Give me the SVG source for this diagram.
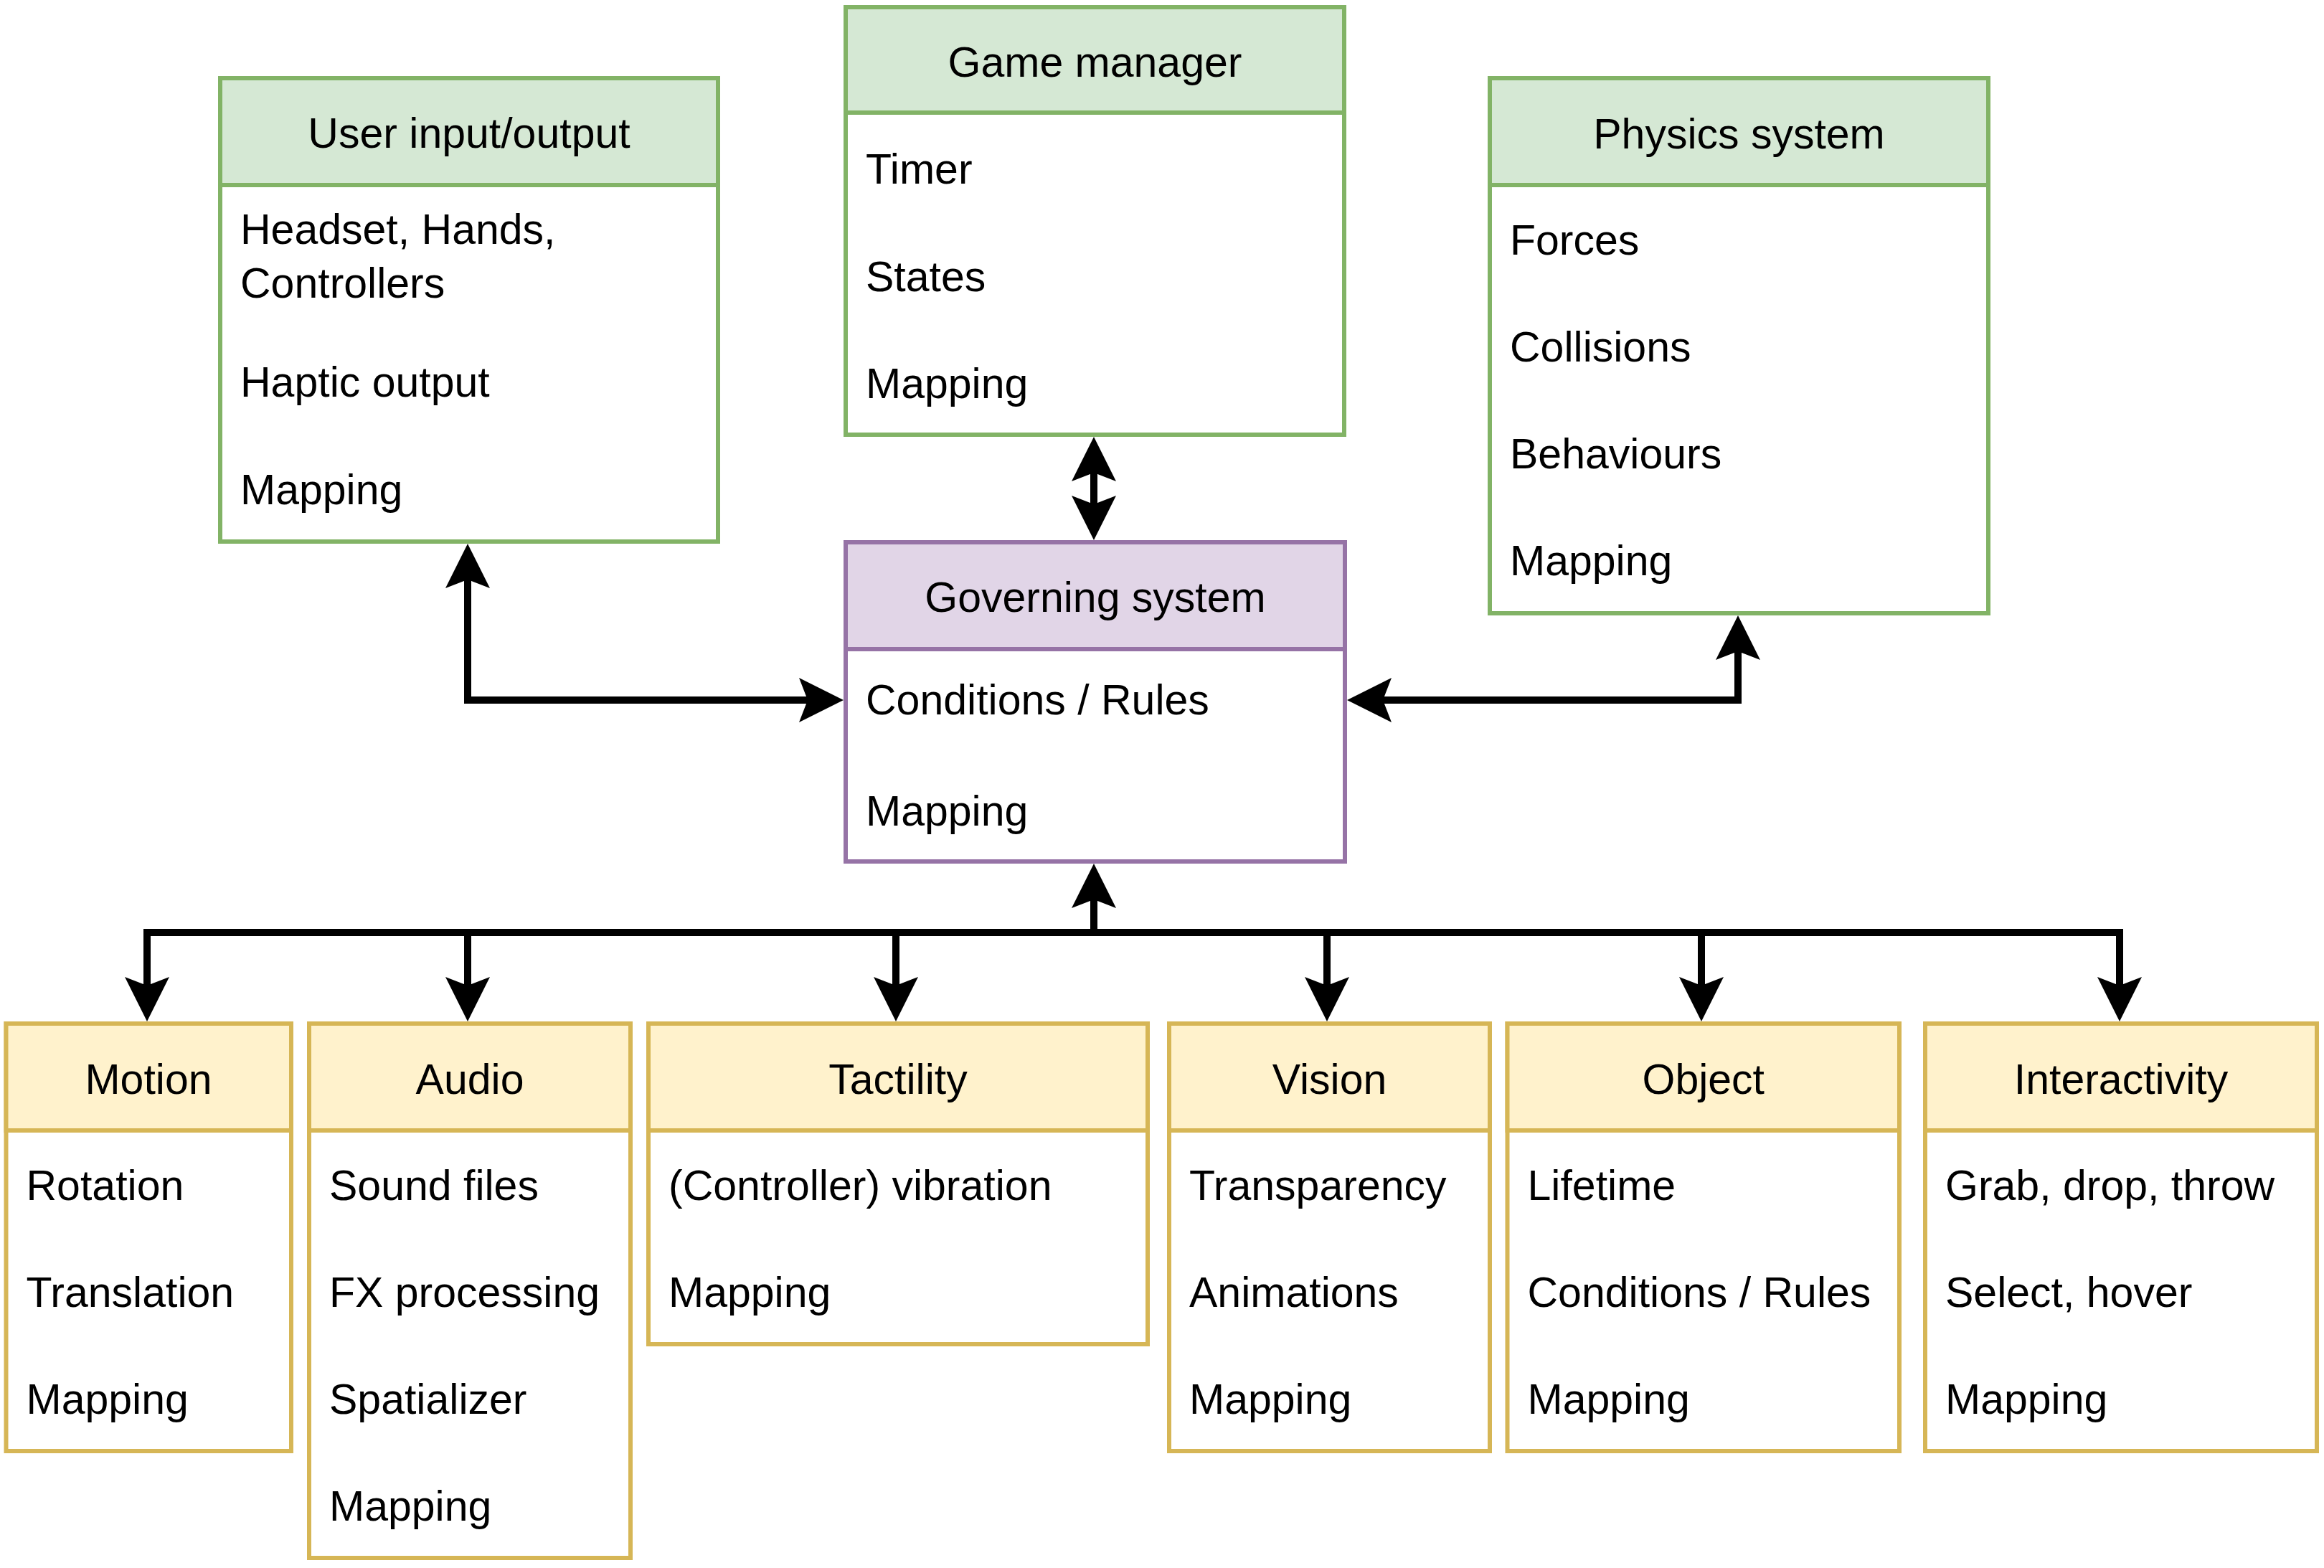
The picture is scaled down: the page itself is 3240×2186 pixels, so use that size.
<svg xmlns="http://www.w3.org/2000/svg" width="3240" height="2186" viewBox="0 0 3240 2186">
<style>
text{font-family:"Liberation Sans",Arial,Helvetica,sans-serif;font-size:59px;fill:#000}
.h{text-anchor:middle}
.box{fill:#fff;stroke-width:6}
.hd{stroke-width:6}
.g .box,.g .hd{stroke:#82b366}.g .hd{fill:#d5e8d4}
.p .box,.p .hd{stroke:#9673a6}.p .hd{fill:#e1d5e7}
.y .box,.y .hd{stroke:#d6b656}.y .hd{fill:#fff2cc}
.e{fill:none;stroke:#000;stroke-width:10;stroke-linejoin:miter}
.e1{marker-end:url(#ah)}
.e2{marker-start:url(#ah);marker-end:url(#ah)}
</style>
<defs>
<marker id="ah" viewBox="0 0 62 62" refX="12" refY="31" markerWidth="62" markerHeight="62" markerUnits="userSpaceOnUse" orient="auto-start-reverse">
<path d="M0,0 L62,31 L0,62 L12,31 Z" fill="#000"/>
</marker>
</defs>
<g id="connectors">
<path class="e e2" d="M652,808 V976 H1126"/>
<path class="e e2" d="M1525,659 V703"/>
<path class="e e2" d="M1928,976 H2423 V908"/>
<path class="e e1" d="M1525,1300 V1254"/>
<path class="e e1" d="M1525,1300 H205 V1374"/>
<path class="e e1" d="M1525,1300 H652 V1374"/>
<path class="e e1" d="M1525,1300 H1249 V1374"/>
<path class="e e1" d="M1525,1300 H1850 V1374"/>
<path class="e e1" d="M1525,1300 H2372 V1374"/>
<path class="e e1" d="M1525,1300 H2955 V1374"/>
</g>
<g id="user-io" class="g">
<rect class="box" x="307" y="109" width="694" height="646"/>
<rect class="hd" x="307" y="109" width="694" height="149"/>
<text class="h" x="654" y="206">User input/output</text>
<text x="335" y="340">Headset, Hands,</text>
<text x="335" y="415">Controllers</text>
<text x="335" y="553">Haptic output</text>
<text x="335" y="703">Mapping</text>
</g>
<g id="game-manager" class="g">
<rect class="box" x="1179" y="10" width="695" height="596"/>
<rect class="hd" x="1179" y="10" width="695" height="147"/>
<text class="h" x="1526.5" y="107">Game manager</text>
<text x="1207" y="256">Timer</text>
<text x="1207" y="406">States</text>
<text x="1207" y="555">Mapping</text>
</g>
<g id="physics" class="g">
<rect class="box" x="2077" y="109" width="695" height="746"/>
<rect class="hd" x="2077" y="109" width="695" height="149"/>
<text class="h" x="2424.5" y="207">Physics system</text>
<text x="2105" y="355">Forces</text>
<text x="2105" y="504">Collisions</text>
<text x="2105" y="653">Behaviours</text>
<text x="2105" y="802">Mapping</text>
</g>
<g id="governing" class="p">
<rect class="box" x="1179" y="756" width="696" height="445"/>
<rect class="hd" x="1179" y="756" width="696" height="149"/>
<text class="h" x="1527" y="853">Governing system</text>
<text x="1207" y="996">Conditions / Rules</text>
<text x="1207" y="1151">Mapping</text>
</g>
<g id="motion" class="y">
<rect class="box" x="8.5" y="1427" width="397.5" height="596"/>
<rect class="hd" x="8.5" y="1427" width="397.5" height="149"/>
<text class="h" x="207" y="1525">Motion</text>
<text x="36.5" y="1673">Rotation</text>
<text x="36.5" y="1822">Translation</text>
<text x="36.5" y="1971">Mapping</text>
</g>
<g id="audio" class="y">
<rect class="box" x="431" y="1427" width="448" height="745"/>
<rect class="hd" x="431" y="1427" width="448" height="149"/>
<text class="h" x="655" y="1525">Audio</text>
<text x="459" y="1673">Sound files</text>
<text x="459" y="1822">FX processing</text>
<text x="459" y="1971">Spatializer</text>
<text x="459" y="2120">Mapping</text>
</g>
<g id="tactility" class="y">
<rect class="box" x="904" y="1427" width="696" height="447"/>
<rect class="hd" x="904" y="1427" width="696" height="149"/>
<text class="h" x="1252" y="1525">Tactility</text>
<text x="932" y="1673">(Controller) vibration</text>
<text x="932" y="1822">Mapping</text>
</g>
<g id="vision" class="y">
<rect class="box" x="1630" y="1427" width="447" height="596"/>
<rect class="hd" x="1630" y="1427" width="447" height="149"/>
<text class="h" x="1853.5" y="1525">Vision</text>
<text x="1658" y="1673">Transparency</text>
<text x="1658" y="1822">Animations</text>
<text x="1658" y="1971">Mapping</text>
</g>
<g id="object" class="y">
<rect class="box" x="2101.5" y="1427" width="546.5" height="596"/>
<rect class="hd" x="2101.5" y="1427" width="546.5" height="149"/>
<text class="h" x="2374.75" y="1525">Object</text>
<text x="2129.5" y="1673">Lifetime</text>
<text x="2129.5" y="1822">Conditions / Rules</text>
<text x="2129.5" y="1971">Mapping</text>
</g>
<g id="interactivity" class="y">
<rect class="box" x="2684" y="1427" width="546" height="596"/>
<rect class="hd" x="2684" y="1427" width="546" height="149"/>
<text class="h" x="2957" y="1525">Interactivity</text>
<text x="2712" y="1673">Grab, drop, throw</text>
<text x="2712" y="1822">Select, hover</text>
<text x="2712" y="1971">Mapping</text>
</g>
</svg>
